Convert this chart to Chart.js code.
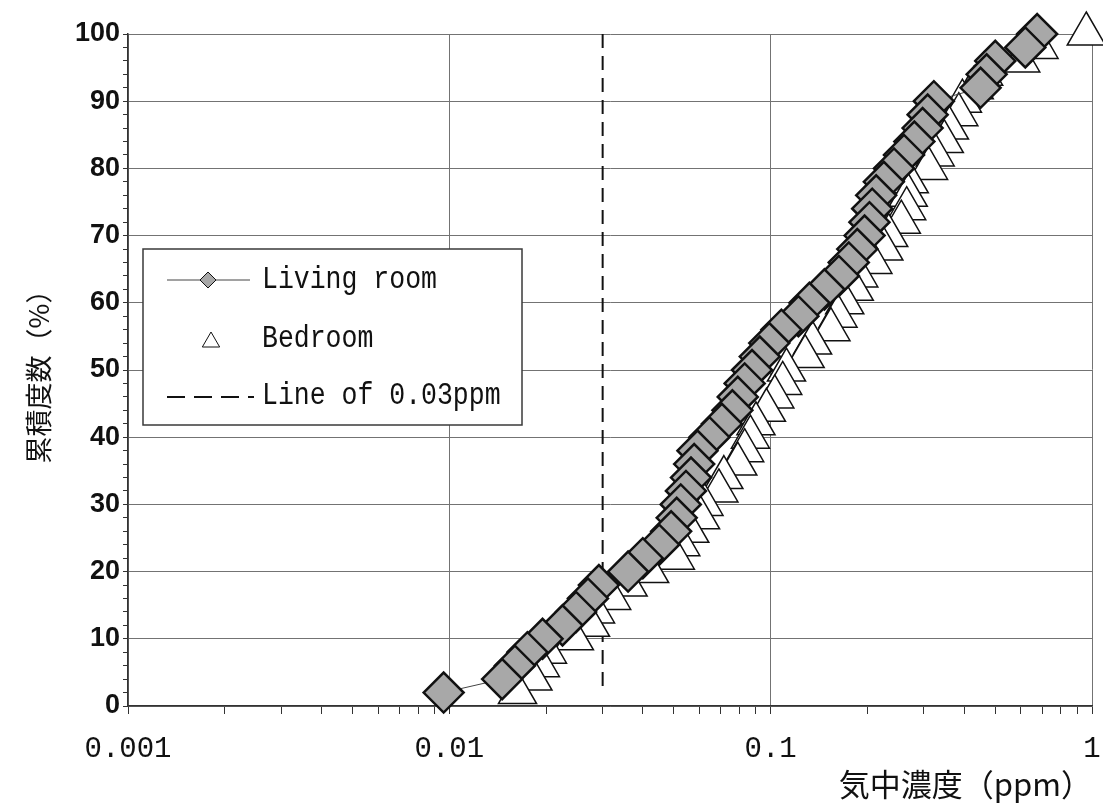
<!DOCTYPE html>
<html lang="ja">
<head>
<meta charset="utf-8">
<title>累積度数分布</title>
<script src="https://cdn.jsdelivr.net/npm/chart.js@4.4.1/dist/chart.umd.min.js"></script>
<style>
  html, body { margin: 0; padding: 0; background: #fff; }
  #wrap { width: 1103px; height: 806px; position: relative; }
</style>
</head>
<body>
<div id="wrap"><canvas id="c" width="1103" height="806"></canvas></div>
<script>
// Cumulative frequency (%) of the sorted samples
const cumulativePercent = [
  2, 4, 6, 8, 10, 12, 14, 16, 18, 20,
  22, 24, 26, 28, 30, 32, 34, 36, 38, 40,
  42, 44, 46, 48, 50, 52, 54, 56, 58, 60,
  62, 64, 66, 68, 70, 72, 74, 76, 78, 80,
  82, 84, 86, 88, 90, 92, 94, 96, 98, 100
];

// Airborne concentration (ppm), living room
const livingRoomPpm = [
  0.0096, 0.0146, 0.0160, 0.0175, 0.0195, 0.0225, 0.0248, 0.0270, 0.0292, 0.0360,
  0.0400, 0.0450, 0.0490, 0.0510, 0.0525, 0.0545, 0.0565, 0.0578, 0.0592, 0.0645,
  0.0705, 0.0760, 0.0790, 0.0830, 0.0875, 0.0925, 0.0990, 0.1080, 0.1220, 0.1320,
  0.1470, 0.1630, 0.1750, 0.1860, 0.1960, 0.2030, 0.2070, 0.2130, 0.2250, 0.2420,
  0.2600, 0.2800, 0.2970, 0.3080, 0.3220, 0.4500, 0.4700, 0.5000, 0.6200, 0.6750
];

// Airborne concentration (ppm), bedroom
const bedroomPpm = [
  0.0163, 0.0182, 0.0192, 0.0202, 0.0245, 0.0275, 0.0285, 0.0320, 0.0360, 0.0420,
  0.0505, 0.0525, 0.0560, 0.0605, 0.0620, 0.0690, 0.0715, 0.0790, 0.0830, 0.0865,
  0.0900, 0.0970, 0.1030, 0.1090, 0.1120, 0.1280, 0.1350, 0.1540, 0.1620, 0.1700,
  0.1820, 0.1880, 0.2080, 0.2250, 0.2330, 0.2550, 0.2650, 0.2680, 0.2700, 0.3100,
  0.3250, 0.3470, 0.3600, 0.3850, 0.3950, 0.4300, 0.4600, 0.6000, 0.6840, 0.9600
];

// Guide line at 0.03 ppm
const guidePpm = [0.03, 0.03];
const guidePercent = [2, 100];

// Axis ticks
const xDecades = [0.001, 0.01, 0.1, 1];
const xDecadeLabels = ['0.001', '0.01', '0.1', '1'];
const xMinorSteps = [1, 2, 3, 4, 5, 6, 7, 8, 9];
const yLabelStep = 10;
const yMinorStep = 2;

const seriesNames = ['Living room', 'Bedroom', 'Line of 0.03ppm'];

// Points are listed from the top of the curve down so lower samples overlap higher ones.
const toPoints = (xs, ys) => xs.map((x, i) => ({ x, y: ys[i] })).reverse();

const DIAMOND_FILL = '#a8a8a8';
const INK = '#111111';

const isDecade = v => xDecades.some(d => Math.abs(d - v) / d < 1e-9);

const insideLegend = {
  id: 'insideLegend',
  afterDraw(chart) {
    const { ctx, chartArea: a } = chart;
    const bx = a.left + 15, by = a.top + 215, bw = 379, bh = 176;
    ctx.save();
    ctx.fillStyle = '#ffffff';
    ctx.fillRect(bx, by, bw, bh);
    ctx.strokeStyle = '#3a3a3a';
    ctx.lineWidth = 1.5;
    ctx.strokeRect(bx, by, bw, bh);

    const textX = bx + 119;
    const rows = [by + 31, by + 90, by + 148];      // marker centres
    const baselines = [by + 39, by + 98, by + 155];  // text baselines

    // Living room: line + diamond
    ctx.strokeStyle = '#444';
    ctx.lineWidth = 1;
    ctx.beginPath();
    ctx.moveTo(bx + 24, rows[0]);
    ctx.lineTo(bx + 107, rows[0]);
    ctx.stroke();
    ctx.fillStyle = DIAMOND_FILL;
    ctx.strokeStyle = INK;
    Chart.helpers.drawPoint(ctx, { pointStyle: 'rectRot', radius: 8, borderWidth: 2.5, rotation: 0 }, bx + 65, rows[0]);

    // Bedroom: triangle
    ctx.fillStyle = '#ffffff';
    ctx.strokeStyle = INK;
    Chart.helpers.drawPoint(ctx, { pointStyle: 'triangle', radius: 10, borderWidth: 1.5, rotation: 0 }, bx + 68, rows[1] + 3);

    // Guide: dashed line
    ctx.strokeStyle = INK;
    ctx.lineWidth = 2;
    ctx.setLineDash([18, 9]);
    ctx.beginPath();
    ctx.moveTo(bx + 24, rows[2]);
    ctx.lineTo(bx + 111, rows[2]);
    ctx.stroke();
    ctx.setLineDash([]);

    // Labels
    const sx = 0.855;
    ctx.fillStyle = INK;
    ctx.font = '31px "Liberation Mono", monospace';
    ctx.textBaseline = 'alphabetic';
    ctx.textAlign = 'left';
    seriesNames.forEach((name, i) => {
      ctx.save();
      ctx.scale(sx, 1);
      ctx.fillText(name, textX / sx, baselines[i]);
      ctx.restore();
    });
    ctx.restore();
  }
};

new Chart(document.getElementById('c'), {
  type: 'scatter',
  data: {
    datasets: [
      {
        label: seriesNames[0],
        data: toPoints(livingRoomPpm, cumulativePercent),
        showLine: true,
        borderColor: '#444',
        borderWidth: 1,
        pointStyle: 'rectRot',
        pointRadius: 20,
        pointBackgroundColor: DIAMOND_FILL,
        pointBorderColor: INK,
        pointBorderWidth: 2.5,
        clip: false
      },
      {
        label: seriesNames[1],
        data: toPoints(bedroomPpm, cumulativePercent),
        showLine: false,
        pointStyle: 'triangle',
        pointRadius: 22,
        pointBackgroundColor: '#ffffff',
        pointBorderColor: INK,
        pointBorderWidth: 1.5,
        clip: false
      },
      {
        label: seriesNames[2],
        data: toPoints(guidePpm, guidePercent),
        showLine: true,
        borderColor: INK,
        borderWidth: 2,
        borderDash: [14, 8],
        pointRadius: 0
      }
    ]
  },
  options: {
    responsive: false,
    animation: false,
    events: [],
    layout: { padding: { left: 0, right: 11, top: 34, bottom: 0 }, autoPadding: false },
    plugins: { legend: { display: false }, tooltip: { enabled: false } },
    scales: {
      x: {
        type: 'logarithmic',
        min: xDecades[0],
        max: xDecades[xDecades.length - 1],
        afterFit(scale) {
          scale.height = 100;
          scale.paddingLeft = 0;
          scale.paddingRight = 0;
        },
        afterBuildTicks(scale) {
          const ticks = [];
          xDecades.forEach((d, i) => {
            if (i === xDecades.length - 1) { ticks.push({ value: d }); return; }
            xMinorSteps.forEach(m => ticks.push({ value: d * m }));
          });
          scale.ticks = ticks;
        },
        ticks: {
          autoSkip: false,
          maxRotation: 0,
          minRotation: 0,
          padding: 18,
          color: INK,
          font: { family: '"Liberation Mono", monospace', size: 29 },
          callback(v) {
            const i = xDecades.findIndex(d => Math.abs(d - v) / d < 1e-9);
            return i >= 0 ? xDecadeLabels[i] : '';
          }
        },
        grid: {
          color: c => (c.tick && isDecade(c.tick.value)) ? '#737373' : 'rgba(0,0,0,0)',
          tickColor: '#333',
          tickLength: 8,
          lineWidth: 1
        },
        border: { color: '#333', width: 1.5 },
        title: {
          display: true,
          text: '気中濃度（ppm）',
          align: 'end',
          color: INK,
          font: { family: '"Noto Sans CJK JP", sans-serif', size: 31 },
          padding: { top: 0, bottom: 3 }
        }
      },
      y: {
        min: 0,
        max: 100,
        afterFit(scale) {
          scale.width = 128;
          scale.paddingTop = 0;
          scale.paddingBottom = 0;
        },
        ticks: {
          stepSize: yMinorStep,
          autoSkip: false,
          padding: 3,
          color: INK,
          font: { family: '"Liberation Sans", Arial, sans-serif', size: 27, weight: 'bold' },
          callback: v => (v % yLabelStep === 0 ? String(v) : '')
        },
        grid: {
          color: c => (c.tick && c.tick.value % yLabelStep === 0) ? '#737373' : 'rgba(0,0,0,0)',
          tickColor: '#333',
          tickLength: 5,
          lineWidth: 1
        },
        border: { color: '#333', width: 1.5 },
        title: {
          display: true,
          text: '累積度数（%）',
          color: INK,
          font: { family: '"Noto Sans CJK JP", sans-serif', size: 27 },
          padding: { top: 23, bottom: 0 }
        }
      }
    }
  },
  plugins: [insideLegend]
});
</script>
</body>
</html>
